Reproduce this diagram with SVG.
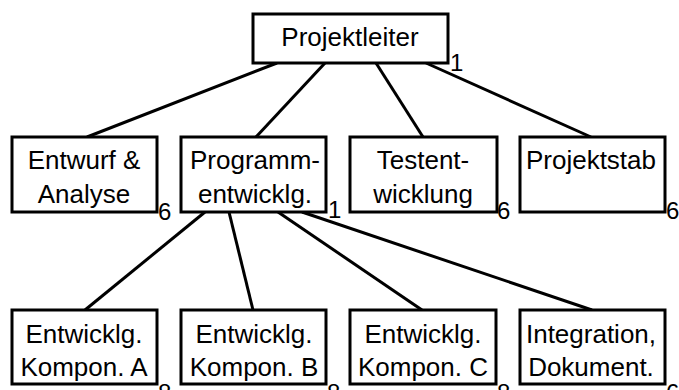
<svg xmlns="http://www.w3.org/2000/svg" width="679" height="390" viewBox="0 0 679 390">
<style>
rect.box{fill:#fff;stroke:#000;stroke-width:3}
.t{font-family:"Liberation Sans",Arial,sans-serif;font-size:26px;fill:#000;text-anchor:middle}
.n{font-family:"Liberation Sans",Arial,sans-serif;font-size:24px;fill:#000}
#connectors line{stroke:#000;stroke-width:3}
</style>
<rect width="679" height="390" fill="#fff"/>
<g id="connectors">
<line x1="277" y1="63" x2="87" y2="137"/>
<line x1="325" y1="63" x2="256" y2="137"/>
<line x1="376" y1="63" x2="423" y2="137"/>
<line x1="426" y1="63" x2="591" y2="137"/>
<line x1="205" y1="212" x2="85" y2="310"/>
<line x1="229" y1="212" x2="253" y2="310"/>
<line x1="278" y1="212" x2="422" y2="310"/>
<line x1="302" y1="212" x2="592" y2="310"/>
</g>
<g id="projektleiter">
<rect class="box" x="253" y="14" width="195" height="49"/>
<text class="t" x="350" y="46">Projektleiter</text>
<text class="n" x="450" y="71">1</text>
</g>
<g id="entwurf">
<rect class="box" x="12" y="137" width="145" height="75"/>
<text class="t" x="84" y="169">Entwurf &amp;</text>
<text class="t" x="84" y="203">Analyse</text>
<text class="n" x="158" y="220">6</text>
</g>
<g id="programmentwicklung">
<rect class="box" x="181" y="137" width="145" height="75"/>
<text class="t" x="255" y="169">Programm-</text>
<text class="t" x="255" y="203">entwicklg.</text>
<text class="n" x="328" y="218">1</text>
</g>
<g id="testentwicklung">
<rect class="box" x="350" y="137" width="147" height="75"/>
<text class="t" x="423" y="169">Testent-</text>
<text class="t" x="423" y="203">wicklung</text>
<text class="n" x="497" y="219">6</text>
</g>
<g id="projektstab">
<rect class="box" x="520" y="137" width="145" height="75"/>
<text class="t" x="591" y="169">Projektstab</text>
<text class="n" x="666" y="219">6</text>
</g>
<g id="kompA">
<rect class="box" x="12" y="310" width="145" height="74"/>
<text class="t" x="84" y="343">Entwicklg.</text>
<text class="t" x="84" y="376">Kompon. A</text>
<text class="n" x="158" y="401">8</text>
</g>
<g id="kompB">
<rect class="box" x="181" y="310" width="145" height="74"/>
<text class="t" x="254" y="343">Entwicklg.</text>
<text class="t" x="254" y="376">Kompon. B</text>
<text class="n" x="327" y="401">8</text>
</g>
<g id="kompC">
<rect class="box" x="350" y="310" width="146" height="74"/>
<text class="t" x="423" y="343">Entwicklg.</text>
<text class="t" x="423" y="376">Kompon. C</text>
<text class="n" x="497" y="401">8</text>
</g>
<g id="integration">
<rect class="box" x="520" y="310" width="145" height="74"/>
<text class="t" x="591" y="343">Integration,</text>
<text class="t" x="591" y="376">Dokument.</text>
<text class="n" x="666" y="401">6</text>
</g>
</svg>
